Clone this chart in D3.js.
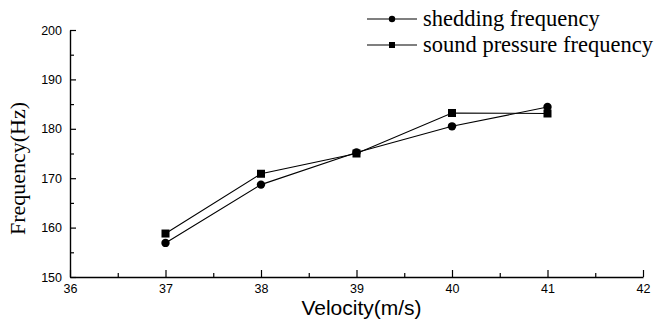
<!DOCTYPE html>
<html>
<head>
<meta charset="utf-8">
<script src="https://cdn.jsdelivr.net/npm/d3@7"></script>
<style>
  body { margin: 0; background: #fff; }
  svg { display: block; }
</style>
</head>
<body>
<script>
// data
const velocities = [37, 38, 39, 40, 41];
const sheddingFreq = [156.9, 168.7, 175.2, 180.5, 184.4];
const soundFreq = [158.8, 170.9, 175.0, 183.2, 183.1];
const xTicks = [36, 37, 38, 39, 40, 41, 42];
const yTicks = [150, 160, 170, 180, 190, 200];
const seriesNames = ['shedding frequency', 'sound pressure frequency'];

const width = 657, height = 323;
const svg = d3.select('body').append('svg')
  .attr('width', width)
  .attr('height', height);

const x = d3.scaleLinear().domain([36, 42]).range([70, 643]);
const y = d3.scaleLinear().domain([150, 200]).range([277, 30]);

// minor ticks (inward)
svg.append('g')
  .attr('transform', `translate(0,${y(150)})`)
  .call(d3.axisBottom(x).tickValues(d3.range(36.5, 42, 1)).tickSize(-4).tickSizeOuter(0).tickFormat(''))
  .call(g => g.select('.domain').remove());
svg.append('g')
  .attr('transform', `translate(${x(36)},0)`)
  .call(d3.axisLeft(y).tickValues(d3.range(155, 200, 10)).tickSize(-4).tickSizeOuter(0).tickFormat(''))
  .call(g => g.select('.domain').remove());

// major axes
svg.append('g')
  .attr('transform', `translate(0,${y(150)})`)
  .call(d3.axisBottom(x).tickValues(xTicks).tickFormat(d3.format('d'))
    .tickSize(-7).tickSizeOuter(0).tickPadding(7));
svg.append('g')
  .attr('transform', `translate(${x(36)},0)`)
  .call(d3.axisLeft(y).tickValues(yTicks).tickFormat(d3.format('d'))
    .tickSize(-6).tickSizeOuter(0).tickPadding(8));

svg.selectAll('.tick text')
  .attr('font-family', 'Liberation Sans, Arial, sans-serif')
  .attr('font-size', 12.5)
  .attr('fill', '#000');
svg.selectAll('.domain').attr('stroke-width', 1.4);
svg.selectAll('.tick line').attr('stroke-width', 1.2);

// axis titles
svg.append('text')
  .attr('x', (x(36) + x(42)) / 2 + 5)
  .attr('y', 315)
  .attr('text-anchor', 'middle')
  .attr('font-family', 'Liberation Sans, Arial, sans-serif')
  .attr('font-size', 21)
  .text('Velocity(m/s)');

svg.append('text')
  .attr('transform', `translate(25,${(y(150) + y(200)) / 2 + 15}) rotate(-90)`)
  .attr('text-anchor', 'middle')
  .attr('font-family', 'Liberation Serif, Times New Roman, serif')
  .attr('font-size', 22)
  .text('Frequency(Hz)');

// series
const line = d3.line()
  .x((d, i) => x(velocities[i]))
  .y(d => y(d));

[sheddingFreq, soundFreq].forEach(vals => {
  svg.append('path')
    .datum(vals)
    .attr('d', line)
    .attr('fill', 'none')
    .attr('stroke', '#000')
    .attr('stroke-width', 1.1);
});

svg.append('g').selectAll('circle')
  .data(sheddingFreq)
  .enter()
  .append('circle')
  .attr('cx', (d, i) => x(velocities[i]))
  .attr('cy', d => y(d))
  .attr('r', 4.2)
  .attr('fill', '#000');

svg.append('g').selectAll('rect')
  .data(soundFreq)
  .enter()
  .append('rect')
  .attr('x', (d, i) => x(velocities[i]) - 4)
  .attr('y', d => y(d) - 4)
  .attr('width', 8)
  .attr('height', 8)
  .attr('fill', '#000');

// legend
const legendRows = [19, 45];
seriesNames.forEach((name, i) => {
  const ly = legendRows[i];
  const g = svg.append('g');
  g.append('line')
    .attr('x1', 367).attr('x2', 417)
    .attr('y1', ly).attr('y2', ly)
    .attr('stroke', '#000')
    .attr('stroke-width', 1.1);
  if (i === 0) {
    g.append('circle').attr('cx', 392).attr('cy', ly).attr('r', 3.2).attr('fill', '#000');
  } else {
    g.append('rect').attr('x', 389).attr('y', ly - 3).attr('width', 6).attr('height', 6).attr('fill', '#000');
  }
  g.append('text')
    .attr('x', 423)
    .attr('y', ly + 6.5)
    .attr('font-family', 'Liberation Serif, Times New Roman, serif')
    .attr('font-size', 22.5)
    .text(name);
});
</script>
</body>
</html>
